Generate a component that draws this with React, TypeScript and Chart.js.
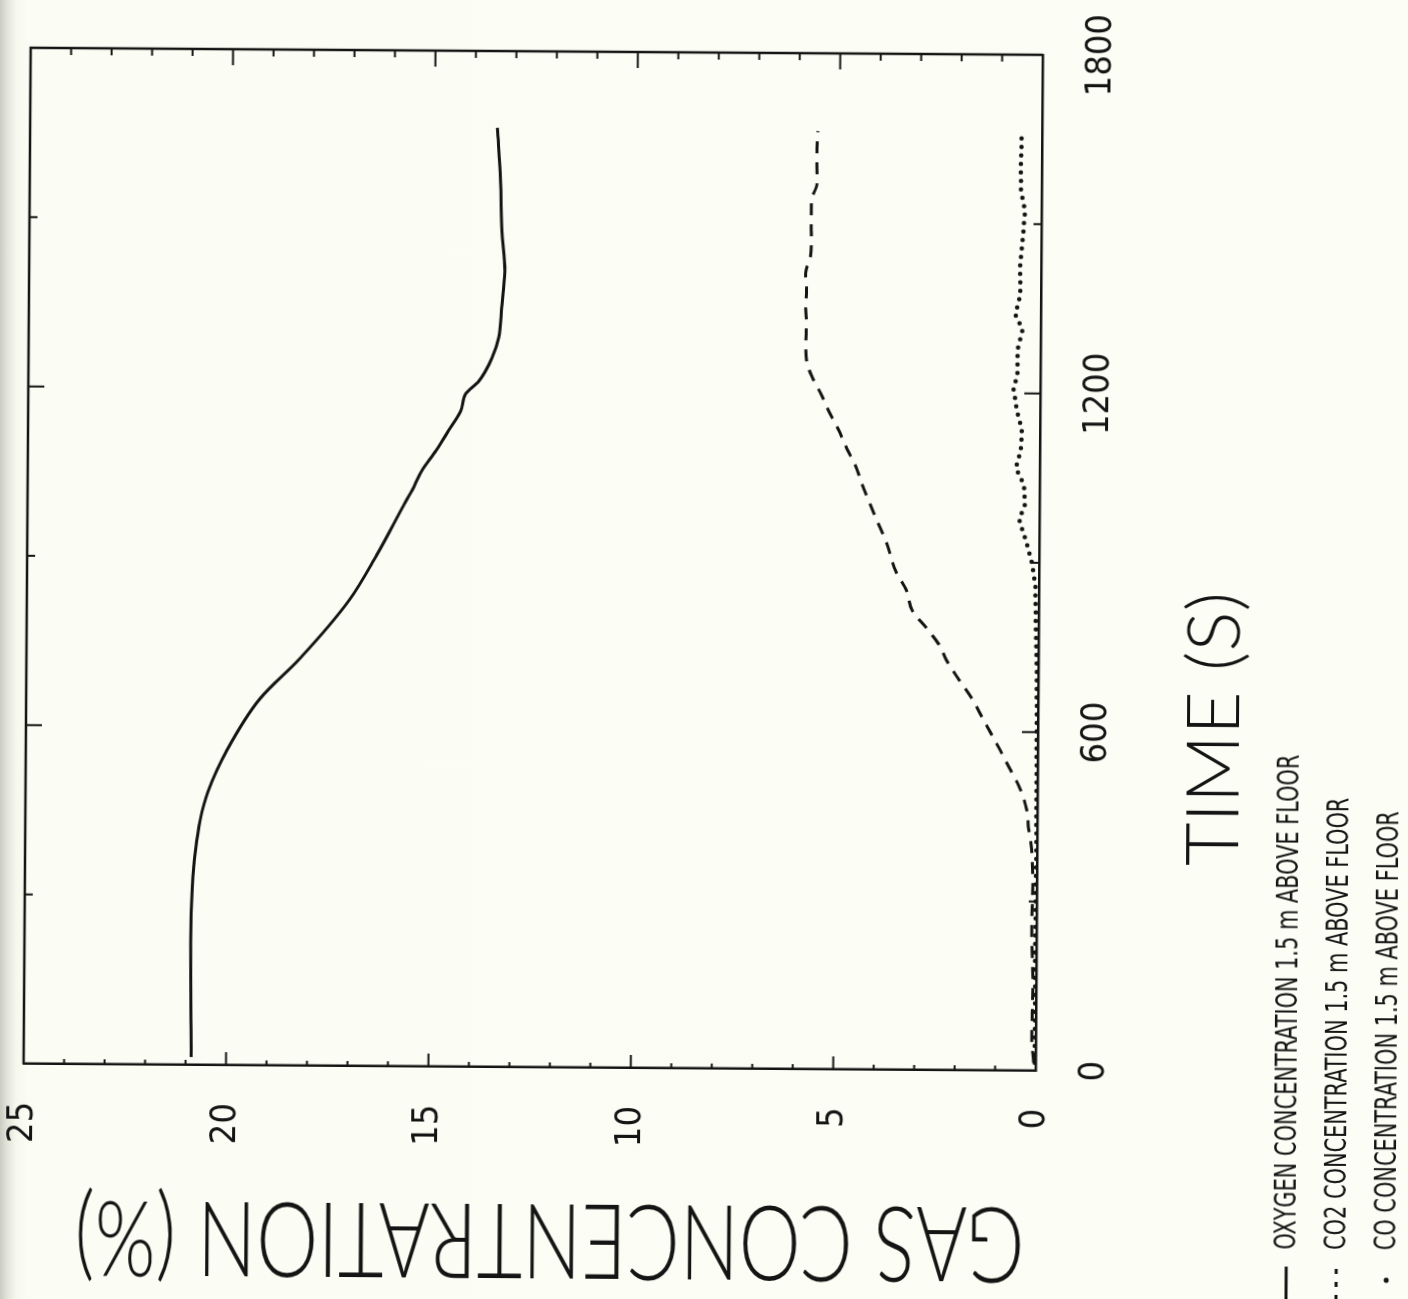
import React, { useEffect, useRef } from 'react';
import { Chart, registerables } from 'chart.js';

Chart.register(...registerables);

// ---------- data (time in s, concentration in %) ----------
const oxygenTime = [14, 218, 315, 381, 434, 485, 558, 650, 721, 826, 905, 1003, 1021, 1056, 1091, 1127, 1162, 1192, 1215, 1256, 1292, 1345, 1410, 1481, 1570, 1664];
const oxygenConc = [20.86, 20.89, 20.86, 20.79, 20.68, 20.49, 20.03, 19.22, 18.25, 17.03, 16.37, 15.64, 15.5, 15.26, 14.92, 14.61, 14.31, 14.2, 13.87, 13.55, 13.39, 13.32, 13.25, 13.33, 13.37, 13.46];

const co2Time = [14, 60, 150, 250, 330, 400, 427, 461, 501, 535, 569, 624, 657, 691, 726, 753, 783, 813, 849, 882, 935, 976, 1038, 1068, 1100, 1132, 1166, 1194, 1228, 1256, 1286, 1318, 1352, 1380, 1410, 1440, 1472, 1504, 1538, 1570, 1632, 1662];
const co2Conc = [0.05, 0.1, 0.08, 0.12, 0.1, 0.15, 0.21, 0.26, 0.44, 0.69, 0.94, 1.37, 1.62, 1.95, 2.27, 2.45, 2.77, 3.12, 3.27, 3.53, 3.78, 4.03, 4.39, 4.54, 4.77, 4.97, 5.22, 5.4, 5.65, 5.78, 5.8, 5.79, 5.81, 5.79, 5.82, 5.7, 5.68, 5.69, 5.69, 5.55, 5.56, 5.54];

const coTime = [14, 200, 400, 600, 719, 790, 861, 897, 937, 976, 1003, 1038, 1068, 1100, 1136, 1171, 1207, 1233, 1277, 1313, 1339, 1375, 1428, 1481, 1522, 1561, 1605, 1662];
const coConc = [0.02, 0.03, 0.02, 0.03, 0.04, 0.07, 0.09, 0.17, 0.32, 0.5, 0.36, 0.39, 0.59, 0.47, 0.45, 0.58, 0.66, 0.57, 0.57, 0.45, 0.63, 0.51, 0.52, 0.45, 0.41, 0.51, 0.52, 0.5];

const timeTickLabels = [0, 600, 1200, 1800];
const timeFrameTicks = [300, 600, 900, 1200, 1500];
const concTickLabels = [0, 5, 10, 15, 20, 25];
const concFrameTicks = [1, 2, 3, 4, 5, 6, 7, 8, 9, 10, 11, 12, 13, 14, 15, 16, 17, 18, 19, 20, 21, 22, 23, 24];

const seriesLabels = [
  'OXYGEN CONCENTRATION 1.5 m ABOVE FLOOR',
  'CO2 CONCENTRATION 1.5 m ABOVE FLOOR',
  'CO CONCENTRATION 1.5 m ABOVE FLOOR',
];
const xTitle = 'TIME (S)';
const yTitle = 'GAS CONCENTRATION (%)';

// ---------- styling ----------
const INK = '#141414';
const NARROW = '"Liberation Sans Narrow", "Arial Narrow", "DejaVu Sans Condensed", "Liberation Sans", sans-serif';
const LIGHT = 'Lato, "Open Sans", "DejaVu Sans", sans-serif';
const CW = 1299; // canvas width (becomes page height after rotation)
const CH = 1408; // canvas height (becomes page width after rotation)

const pairs = (xs: number[], ys: number[]) => xs.map((x, i) => ({ x, y: ys[i] }));

function fittedText(ctx: any, text: string, font: string, width: number) {
  ctx.font = font;
  const w = ctx.measureText(text).width;
  ctx.save();
  ctx.scale(width / w, 1);
  ctx.fillText(text, 0, 0);
  ctx.restore();
}

const frameAndText = {
  id: 'frameAndText',
  afterDraw(chart: any) {
    const { ctx, chartArea: a, scales } = chart;
    const xs = scales.x;
    const ys = scales.y;
    ctx.save();
    ctx.strokeStyle = INK;
    ctx.fillStyle = INK;
    ctx.lineCap = 'butt';
    // top and right frame lines
    ctx.lineWidth = 2.5;
    ctx.beginPath();
    ctx.moveTo(a.left, a.top);
    ctx.lineTo(a.right, a.top);
    ctx.lineTo(a.right, a.bottom);
    ctx.stroke();
    // inward ticks
    ctx.lineWidth = 2;
    const seg = (x1: number, y1: number, x2: number, y2: number) => {
      ctx.beginPath();
      ctx.moveTo(x1, y1);
      ctx.lineTo(x2, y2);
      ctx.stroke();
    };
    timeFrameTicks.forEach((t) => {
      const px = xs.getPixelForValue(t);
      const len = t % 600 === 0 ? 16 : 8;
      seg(px, a.bottom, px, a.bottom - len);
      seg(px, a.top, px, a.top + len);
    });
    concFrameTicks.forEach((c) => {
      const py = ys.getPixelForValue(c);
      const major = c % 5 === 0;
      seg(a.left, py, a.left + (major ? 13 : 5), py);
      seg(a.right, py, a.right - (major ? 16 : 7), py);
    });

    ctx.textAlign = 'left';
    ctx.textBaseline = 'alphabetic';

    // x axis title
    ctx.save();
    ctx.translate(437, 1240);
    fittedText(ctx, xTitle, `300 72px ${LIGHT}`, 274);
    ctx.restore();

    // y axis title (vertical, reading upwards)
    ctx.save();
    ctx.translate(94, 1029);
    ctx.rotate(-Math.PI / 2);
    fittedText(ctx, yTitle, `300 104px ${LIGHT}`, 950);
    ctx.restore();

    // legend
    ctx.textBaseline = 'middle';
    ctx.font = `30px ${NARROW}`;
    const k = 495 / ctx.measureText(seriesLabels[0]).width;
    const rows = [1291, 1341, 1391];
    seriesLabels.forEach((label, i) => {
      ctx.save();
      ctx.translate(54, rows[i]);
      ctx.scale(k, 1);
      ctx.fillText(label, 0, 1);
      ctx.restore();
    });
    // legend samples
    ctx.lineWidth = 3;
    ctx.setLineDash([]);
    seg(2, rows[0], 37, rows[0]);
    ctx.setLineDash([5, 8]);
    seg(4, rows[1], 38, rows[1]);
    ctx.setLineDash([]);
    ctx.beginPath();
    ctx.arc(24, rows[2], 2.6, 0, Math.PI * 2);
    ctx.fill();
    ctx.restore();
  },
};

export default function App() {
  const ref = useRef<HTMLCanvasElement | null>(null);

  useEffect(() => {
    if (!ref.current) return;
    const chart = new Chart(ref.current, {
      type: 'scatter',
      data: {
        datasets: [
          {
            label: seriesLabels[0],
            data: pairs(oxygenTime, oxygenConc),
            showLine: true,
            borderColor: INK,
            borderWidth: 3,
            pointRadius: 0,
            cubicInterpolationMode: 'monotone',
          },
          {
            label: seriesLabels[1],
            data: pairs(co2Time, co2Conc),
            showLine: true,
            borderColor: INK,
            borderWidth: 3,
            borderDash: [12, 9],
            pointRadius: 0,
            cubicInterpolationMode: 'monotone',
          },
          {
            label: seriesLabels[2],
            data: pairs(coTime, coConc),
            showLine: true,
            borderColor: INK,
            borderWidth: 4.5,
            borderDash: [0, 8.5],
            borderCapStyle: 'round',
            pointRadius: 0,
            tension: 0,
          },
        ],
      } as any,
      options: {
        responsive: false,
        maintainAspectRatio: false,
        animation: false,
        events: [],
        layout: { autoPadding: false, padding: { top: 27, right: 52, left: 0, bottom: 0 } },
        plugins: { legend: { display: false }, tooltip: { enabled: false } },
        scales: {
          x: {
            type: 'linear',
            min: 0,
            max: 1800,
            afterFit: (s: any) => {
              s.height = CH - 1039;
            },
            afterBuildTicks: (s: any) => {
              s.ticks = timeTickLabels.map((value) => ({ value }));
            },
            grid: { display: false, drawTicks: true, tickLength: 37 },
            border: { display: true, color: INK, width: 2.5 },
            ticks: {
              font: { family: NARROW, size: 36 },
              color: INK,
              padding: 0,
              maxRotation: 0,
              autoSkip: false,
              callback: (v: any) => String(v),
            },
          },
          y: {
            type: 'linear',
            min: 0,
            max: 25,
            afterFit: (s: any) => {
              s.width = 231;
            },
            afterBuildTicks: (s: any) => {
              s.ticks = concTickLabels.map((value) => ({ value }));
            },
            grid: { display: false, drawTicks: true, tickLength: 38 },
            border: { display: true, color: INK, width: 2.5 },
            ticks: {
              font: { family: NARROW, size: 36 },
              color: INK,
              padding: 0,
              autoSkip: false,
              callback: (v: any) => String(v),
            },
          },
        },
      } as any,
      plugins: [frameAndText],
    });
    return () => chart.destroy();
  }, []);

  return (
    <div
      style={{
        position: 'absolute',
        left: 0,
        top: 0,
        width: 1408,
        height: 1299,
        overflow: 'hidden',
        background:
          'linear-gradient(to right, #c9ccc2 0px, #e2e4da 7px, #f6f8ee 16px, #fbfcf3 28px, #fcfdf4 100%)',
      }}
    >
      <canvas
        ref={ref}
        width={CW}
        height={CH}
        style={{
          position: 'absolute',
          left: 54,
          top: -54,
          width: CW,
          height: CH,
          transformOrigin: '50% 50%',
          transform: 'rotate(-89.6deg)',
        }}
      />
    </div>
  );
}
